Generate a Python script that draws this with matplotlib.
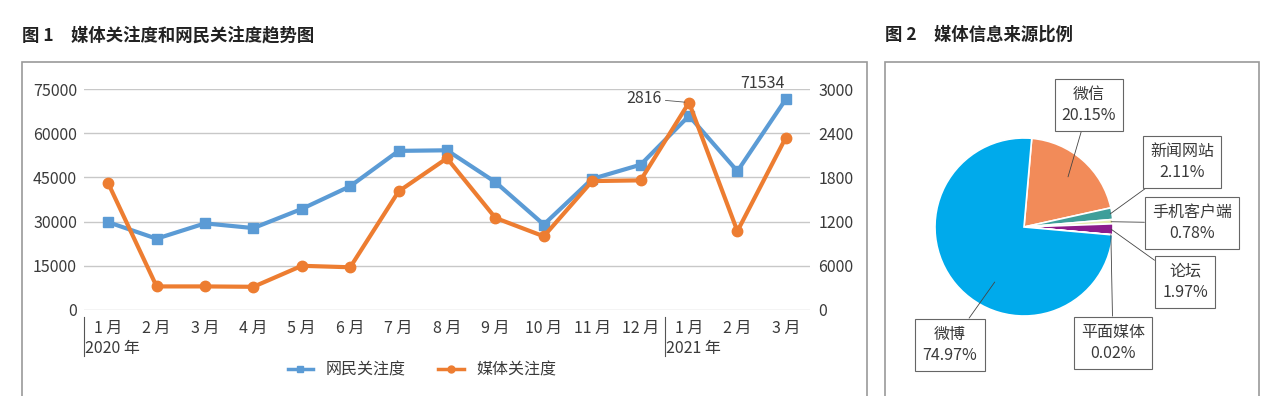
import matplotlib.pyplot as plt
import numpy as np
from matplotlib.patches import Rectangle
from matplotlib.lines import Line2D

plt.rcParams['font.family'] = ['Noto Sans CJK SC', 'DejaVu Sans']

# data
months = ["1 月", "2 月", "3 月", "4 月", "5 月", "6 月", "7 月", "8 月",
          "9 月", "10 月", "11 月", "12 月", "1 月", "2 月", "3 月"]
years = ["2020 年", "2021 年"]
netizen = [29800, 24200, 29400, 27800, 34300, 42000, 54000, 54200,
           43400, 29000, 44500, 49300, 65900, 47100, 71534]
media = [1720, 320, 320, 315, 600, 580, 1610, 2060,
         1250, 1000, 1750, 1760, 2816, 1070, 2340]
left_ticks = [0, 15000, 30000, 45000, 60000, 75000]
right_ticks = [0, 600, 1200, 1800, 2400, 3000]
right_labels = ["0", "6000", "1200", "1800", "2400", "3000"]

src_names = ["微信", "新闻网站", "手机客户端", "论坛", "平面媒体", "微博"]
src_share = [20.15, 2.11, 0.78, 1.97, 0.02, 74.97]
src_colors = ["#F28B59", "#3E9E9A", "#E6EDB0", "#8B1C8C", "#5A3B8C", "#00AAEB"]

BLUE = "#5B9BD5"
ORANGE = "#ED7D31"
TXT = "#3a3a3a"
FS = 11.5
W, H = 1277, 396


def fx(px):
    return px / W


def fy(py):
    return 1 - py / H


fig = plt.figure(figsize=(W / 100, H / 100), dpi=100)

# panel frames
fig.patches.append(Rectangle((fx(22), fy(400)), fx(867 - 22), (400 - 62) / H,
                             transform=fig.transFigure, fill=False,
                             edgecolor="#9a9a9a", lw=1.2))
fig.patches.append(Rectangle((fx(885), fy(400)), fx(1259 - 885), (400 - 62) / H,
                             transform=fig.transFigure, fill=False,
                             edgecolor="#9a9a9a", lw=1.2))

fig.text(fx(22), fy(35), "图 1　媒体关注度和网民关注度趋势图", fontsize=12.5,
         weight="bold", color="#222", va="center")
fig.text(fx(885), fy(35), "图 2　媒体信息来源比例", fontsize=12.5,
         weight="bold", color="#222", va="center")

# ---- line chart
ax = fig.add_axes([fx(84), fy(310), fx(810 - 84), (310 - 89) / H])
ax2 = ax.twinx()
x = np.arange(len(months))

ax.set_ylim(0, 75000)
ax.set_yticks(left_ticks)
ax.set_yticklabels([str(t) for t in left_ticks])
ax.grid(axis="y", color="#c8c8c8", lw=1)
ax.set_axisbelow(True)
ax.set_xlim(-0.5, len(months) - 0.5)
ax.set_xticks(x)
ax.set_xticklabels(months)
ax.tick_params(axis="both", length=0, labelsize=FS, colors=TXT)
ax.tick_params(axis="y", pad=5)
ax.tick_params(axis="x", pad=7)
for s in ax.spines.values():
    s.set_visible(False)

ax2.set_ylim(0, 3000)
ax2.set_yticks(right_ticks)
ax2.set_yticklabels(right_labels)
ax2.tick_params(axis="y", length=0, labelsize=FS, colors=TXT, pad=6)
for s in ax2.spines.values():
    s.set_visible(False)

ax.plot(x, netizen, color=BLUE, lw=3, marker="s", ms=7, zorder=3)
ax2.plot(x, media, color=ORANGE, lw=3, marker="o", ms=7.5, zorder=3)

# year separators
trans = ax.get_xaxis_transform()
for xs, yr in zip([-0.5, 11.5], years):
    ax.plot([xs, xs], [-0.03, -0.21], transform=trans, color="#555",
            lw=0.8, clip_on=False)
    ax.text(xs + 0.03, -0.175, yr, transform=trans, fontsize=FS,
            color=TXT, ha="left", va="center")

# value labels
ax2.annotate(str(media[12]), xy=(12, media[12]), xytext=(-20, 3),
             textcoords="offset points", ha="right", va="center",
             fontsize=FS, color=TXT,
             arrowprops=dict(arrowstyle="-", color="#555", lw=0.6,
                             shrinkA=1, shrinkB=3))
ax.annotate(str(netizen[14]), xy=(14, netizen[14]), xytext=(-17, 11.5),
            textcoords="offset points", ha="center", va="center",
            fontsize=FS, color=TXT)

handles = [Line2D([], [], color=BLUE, lw=2.5, marker="s", ms=5),
           Line2D([], [], color=ORANGE, lw=2.5, marker="o", ms=5)]
fig.legend(handles, ["网民关注度", "媒体关注度"], loc="center",
           bbox_to_anchor=(fx(422), fy(370)), ncol=2, frameon=False,
           fontsize=FS, handlelength=1.6, columnspacing=2.0,
           labelcolor=TXT)

# ---- pie chart
cx, cy, r = 1024, 227, 89
pa = fig.add_axes([fx(cx - 100), fy(cy + 100), fx(200), 200 / H])
wedges, _ = pa.pie(src_share, colors=src_colors, startangle=85,
                   counterclock=False, radius=1,
                   wedgeprops=dict(edgecolor="white", lw=1.2))
pa.set_xlim(-100 / r, 100 / r)
pa.set_ylim(-100 / r, 100 / r)
pa.axis("off")

# label box centres (pixels)
box_pos = [(1089, 105), (1182, 162), (1192, 223), (1185, 282),
           (1113, 343), (950, 345)]
tip_frac = [0.75, 0.98, 0.98, 0.98, 0.98, 0.7]
for w, name, share, (bx, by), tf in zip(wedges, src_names, src_share,
                                         box_pos, tip_frac):
    ang = np.deg2rad((w.theta1 + w.theta2) / 2)
    if name == "微博":
        ang = np.deg2rad(-118)
    tip = (tf * np.cos(ang), tf * np.sin(ang))
    pa.annotate(f"{name}\n{share:.2f}%", xy=tip,
                xytext=((bx - cx) / r, (cy - by) / r), textcoords="data",
                ha="center", va="center", fontsize=FS, color=TXT,
                linespacing=1.35, annotation_clip=False,
                bbox=dict(boxstyle="square,pad=0.45", fc="white",
                          ec="#666", lw=0.8),
                arrowprops=dict(arrowstyle="-", color="#444", lw=0.6,
                                shrinkA=0, shrinkB=0))

fig.savefig("out.png", dpi=100)
